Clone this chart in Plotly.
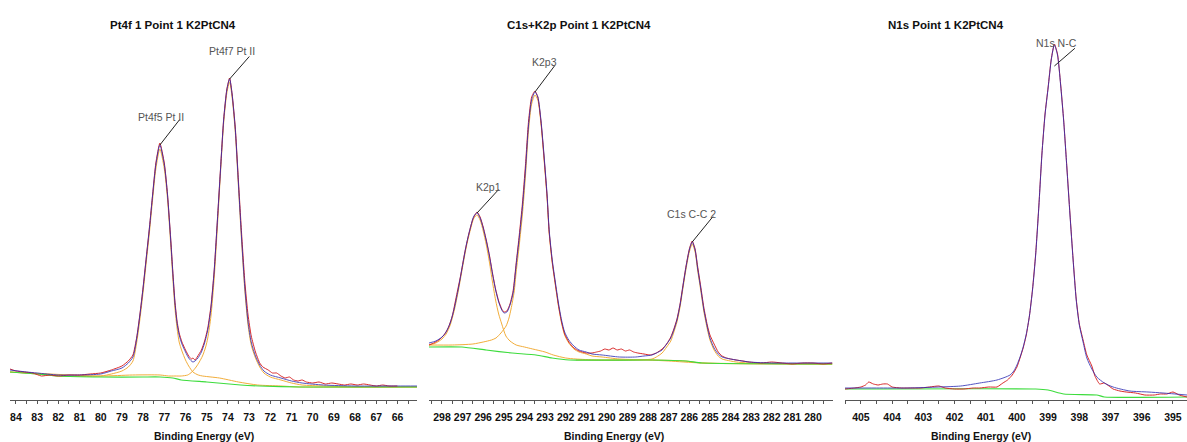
import numpy as np
import plotly.graph_objects as go

W, H = 1187, 442

# ---------------- Pt4f region ----------------
pt_env_ev = [84.28, 83.5, 83.0, 82.0, 81.0, 80.0, 79.5, 79.0, 78.7, 78.48, 78.3, 78.15, 78.0, 77.85, 77.7,
             77.55, 77.4, 77.21, 77.0, 76.85, 76.7, 76.6, 76.5, 76.4, 76.3, 76.17, 76.0, 75.85, 75.65, 75.45,
             75.25, 75.1, 74.95, 74.8, 74.65, 74.5, 74.35, 74.2, 74.05, 73.92, 73.8, 73.65, 73.5, 73.35,
             73.2, 73.05, 72.9, 72.7, 72.5, 72.3, 72.0, 71.5, 71.0, 70.5, 69.5, 68.0, 66.0, 65.08]
pt_env = [30, 28, 27, 25, 25, 26, 29, 32, 37, 43, 62, 85, 112, 142, 172,
          205, 235, 255, 235, 205, 160, 127, 97, 77, 65, 56, 48, 42, 38, 41,
          48, 57, 70, 92, 128, 178, 230, 280, 310, 321, 305, 270, 215, 160,
          112, 78, 58, 44, 35, 29, 25, 22, 19, 17, 15, 14, 14, 14]

pt_raw_ev = [84.28, 84.0, 83.6, 83.2, 82.8, 82.4, 82.0, 81.5, 81.0, 80.5, 80.0, 79.5, 79.0, 78.7, 78.48,
             78.3, 78.15, 78.0, 77.85, 77.7, 77.55, 77.4, 77.21, 77.0, 76.85, 76.7, 76.6, 76.5, 76.4,
             76.3, 76.17, 76.0, 75.85, 75.72, 75.65, 75.55, 75.45, 75.25, 75.1, 74.95, 74.8, 74.65, 74.5,
             74.35, 74.2, 74.05, 73.92, 73.8, 73.65, 73.5, 73.35, 73.2, 73.05, 72.9, 72.7, 72.5, 72.35,
             72.1, 71.9, 71.7, 71.5, 71.3, 71.1, 70.9, 70.7, 70.5, 70.3, 70.0, 69.7, 69.4, 69.1, 68.8,
             68.5, 68.2, 67.9, 67.6, 67.3, 67.0, 66.7, 66.4, 66.0]
pt_raw = [31, 29, 28, 27, 24, 25, 24, 25, 25, 26, 27, 30, 34, 39, 45,
          63, 86, 113, 143, 173, 206, 237, 257, 237, 206, 162, 129, 99, 79,
          67, 58, 50, 44, 41, 42, 40, 43, 50, 59, 72, 94, 129, 179,
          231, 281, 311, 322, 306, 272, 218, 165, 118, 85, 64, 48, 37, 33,
          30, 27, 27, 24, 22, 23, 20, 19, 20, 18, 17, 18, 16, 17, 16,
          15, 16, 15, 16, 15, 14, 15, 14, 14]

pt_bg_ev = [84.28, 83.0, 82.0, 80.0, 78.0, 77.2, 76.6, 76.2, 75.0, 73.4, 72.5, 70.6, 65.08]
pt_bg = [28, 26, 24, 23, 23, 23, 22, 20, 18, 15, 14, 13, 13]

pt4f5_ev = [84.28, 83.0, 82.0, 80.0, 79.5, 79.0, 78.7, 78.48, 78.3, 78.15, 78.0, 77.85, 77.7, 77.55,
            77.4, 77.21, 77.0, 76.85, 76.7, 76.6, 76.5, 76.4, 76.3, 76.17, 76.0, 75.85, 75.65, 75.4,
            75.2, 74.8, 74.4, 73.5, 72.6, 71.5, 70.6, 65.08]
pt4f5 = [28, 26, 24, 24, 26, 29, 33, 39, 58, 81, 108, 138, 168, 201,
         231, 251, 231, 201, 156, 122, 92, 72, 58, 49, 40, 34, 28, 25,
         24, 23, 22, 18, 15, 14, 13, 13]

pt4f7_ev = [84.28, 80.0, 78.5, 77.2, 76.8, 76.5, 76.2, 75.9, 75.7, 75.5, 75.35, 75.2, 75.05, 74.95,
            74.8, 74.65, 74.5, 74.35, 74.2, 74.05, 73.92, 73.8, 73.65, 73.5, 73.35, 73.2, 73.05, 72.9,
            72.7, 72.5, 72.3, 72.0, 71.5, 71.0, 70.5, 69.5, 68.0, 65.08]
pt4f7 = [28, 24, 25, 25, 24, 24, 24, 25, 28, 33, 38, 44, 53, 62,
         84, 121, 172, 227, 277, 307, 318, 302, 267, 212, 157, 109, 75, 55,
         42, 33, 27, 23, 20, 17, 15, 14, 13, 13]

# ---------------- C1s + K2p region ----------------
ck_env_ev = [298.63, 298.3, 298.0, 297.8, 297.6, 297.4, 297.2, 297.0, 296.8, 296.6, 296.45, 296.3,
             296.15, 296.0, 295.85, 295.7, 295.55, 295.4, 295.25, 295.1, 294.99, 294.85, 294.7,
             294.55, 294.4, 294.25, 294.1, 293.95, 293.8, 293.65, 293.49, 293.35, 293.2, 293.05,
             292.9, 292.8, 292.65, 292.5, 292.35, 292.2, 292.05, 291.85, 291.6, 291.35, 291.0,
             290.72, 290.23, 289.4, 288.6, 288.2, 287.81, 287.6, 287.32, 287.1, 286.9, 286.75,
             286.6, 286.45, 286.3, 286.16, 286.0, 285.86, 285.72, 285.6, 285.45, 285.3, 285.13,
             285.0, 284.8, 284.6, 284.41, 284.0, 283.73, 283.1, 282.0, 281.3, 279.07]
ck_env = [57, 59, 63, 68, 77, 92, 112, 135, 157, 174, 184, 187,
          182, 172, 159, 144, 126, 110, 98, 90, 87, 88, 95,
          107, 135, 162, 192, 230, 275, 300, 308, 303, 280, 245,
          205, 170, 140, 118, 97, 80, 68, 60, 54, 50, 48,
          46, 45, 43, 43, 44, 45, 47, 50, 56, 62, 70,
          80, 95, 115, 133, 150, 158, 150, 132, 112, 91, 73,
          62, 52, 46, 43, 41, 40, 38, 37, 37, 37]

ck_raw_ev = [298.63, 298.4, 298.15, 297.9, 297.7, 297.5, 297.3, 297.1, 296.9, 296.7, 296.5, 296.3,
             296.15, 296.0, 295.85, 295.7, 295.55, 295.4, 295.25, 295.1, 294.99, 294.85, 294.7,
             294.55, 294.4, 294.25, 294.1, 293.95, 293.8, 293.65, 293.49, 293.35, 293.2, 293.05,
             292.9, 292.8, 292.65, 292.5, 292.35, 292.2, 292.05, 291.85, 291.6, 291.35, 291.0,
             290.72, 290.5, 290.3, 290.1, 289.9, 289.7, 289.5, 289.3, 289.1, 288.9, 288.7, 288.5,
             288.2, 287.9, 287.6, 287.32, 287.1, 286.9, 286.75, 286.6, 286.45, 286.3, 286.16,
             286.0, 285.86, 285.72, 285.6, 285.45, 285.3, 285.13, 285.0, 284.8, 284.6, 284.41,
             284.2, 284.0, 283.73, 283.4, 283.1, 282.5, 282.0, 281.5, 281.0, 280.5, 280.0, 279.5,
             279.07]
ck_raw = [55, 57, 60, 65, 72, 84, 104, 124, 147, 166, 181, 188,
          183, 173, 160, 145, 127, 111, 99, 91, 88, 89, 96,
          109, 137, 165, 196, 235, 279, 303, 309, 303, 279, 243,
          203, 168, 138, 116, 95, 78, 66, 58, 52, 49, 47,
          47, 48, 49, 51, 50, 52, 50, 51, 49, 50, 48, 47,
          46, 45, 47, 51, 56, 63, 71, 81, 96, 116, 134,
          151, 159, 151, 134, 114, 93, 75, 65, 56, 48, 44,
          42, 41, 40, 39, 38, 37, 38, 37, 36, 37, 37, 36,
          37]

ck_bg_ev = [298.63, 297.03, 295.86, 294.6, 293.44, 292.66, 291.83, 287.81, 286.16, 285.38, 279.07]
ck_bg = [53, 53, 50, 47, 45, 42, 40, 40, 39, 37, 36]

k2p1_ev = [298.63, 298.3, 298.0, 297.8, 297.6, 297.4, 297.2, 297.0, 296.8, 296.6, 296.45, 296.3,
           296.15, 296.0, 295.85, 295.7, 295.55, 295.4, 295.25, 295.1, 294.9, 294.7, 294.4, 294.0,
           293.6, 293.0, 292.6, 292.0, 291.5, 290.5, 287.8, 286.2, 285.4, 279.07]
k2p1 = [55, 57, 61, 66, 75, 90, 110, 133, 155, 172, 182, 185,
        180, 169, 155, 138, 118, 100, 86, 76, 64, 59, 55, 53,
        51, 48, 45, 42, 41, 40, 40, 39, 37, 36]

k2p3_ev = [298.63, 297.5, 296.5, 296.0, 295.6, 295.38, 295.14, 294.89, 294.75, 294.65, 294.5, 294.4,
           294.25, 294.1, 293.95, 293.8, 293.65, 293.49, 293.35, 293.2, 293.05, 292.9, 292.8, 292.65,
           292.5, 292.35, 292.2, 292.05, 291.85, 291.6, 291.35, 291.0, 290.72, 290.23, 289.4, 288.0,
           287.0, 285.4, 279.07]
k2p3 = [55, 55, 56, 58, 60, 62, 67, 74, 82, 91, 108, 128,
        155, 185, 224, 270, 296, 305, 300, 277, 241, 202, 167, 137,
        115, 94, 77, 65, 57, 51, 48, 46, 44, 43, 41, 40,
        39, 37, 36]

c1s_ev = [291.5, 288.6, 287.81, 287.6, 287.32, 287.1, 286.9, 286.75, 286.6, 286.45, 286.3, 286.16,
          286.0, 285.86, 285.72, 285.6, 285.45, 285.3, 285.13, 285.0, 284.8, 284.6, 284.41, 284.0,
          283.73, 283.1, 279.07]
c1s = [40, 40, 41, 43, 47, 53, 59, 68, 78, 93, 113, 131,
       148, 156, 148, 130, 110, 89, 71, 60, 50, 44, 41, 39,
       38, 37, 36]

# ---------------- N1s region ----------------
n_env_ev = [405.51, 404.5, 403.5, 402.5, 401.8, 401.19, 400.64, 400.22, 400.1, 400.0, 399.9, 399.8,
            399.7, 399.6, 399.5, 399.4, 399.3, 399.2, 399.1, 399.0, 398.9, 398.8, 398.7, 398.6,
            398.5, 398.4, 398.3, 398.2, 398.1, 398.0, 397.88, 397.76, 397.6, 397.44, 397.2, 396.92,
            396.38, 395.8, 395.32, 394.55]
n_env = [12, 12, 12, 13, 14, 17, 20, 25, 29, 35, 43, 53,
         66, 84, 110, 145, 192, 245, 285, 312, 340, 355, 345, 315,
         278, 232, 185, 140, 100, 75, 58, 42, 31, 23, 17, 13,
         9, 8, 7, 5]

n_raw_ev = [405.51, 405.2, 405.0, 404.85, 404.75, 404.6, 404.45, 404.3, 404.15, 404.0, 403.7, 403.4,
            403.1, 402.8, 402.5, 402.3, 402.0, 401.7, 401.4, 401.19, 400.9, 400.64, 400.45, 400.3,
            400.15, 400.0, 399.9, 399.8, 399.7, 399.6, 399.5, 399.4, 399.3, 399.2, 399.1, 399.0,
            398.9, 398.8, 398.7, 398.6, 398.5, 398.4, 398.3, 398.2, 398.1, 398.0, 397.88, 397.76,
            397.6, 397.5, 397.35, 397.2, 397.05, 396.92, 396.7, 396.5, 396.2, 395.9, 395.6, 395.4,
            395.2, 395.0, 394.8, 394.55]
n_raw = [11, 12, 13, 15, 18, 16, 15, 16, 16, 13, 12, 12,
         12, 13, 14, 12, 11, 11, 12, 12, 13, 13, 17, 20,
         25, 33, 42, 52, 65, 84, 111, 146, 193, 246, 286, 313,
         341, 356, 346, 316, 279, 233, 186, 141, 101, 76, 60, 45,
         34, 24, 16, 17, 14, 11, 9, 8, 7, 5, 5, 6,
         6, 8, 5, 3]

n_bg_ev = [405.51, 399.4, 399.0, 398.5, 397.44, 397.2, 394.55]
n_bg = [11, 11, 10, 6, 5, 3, 3]

# ---------------- panel definitions ----------------
titles = ["Pt4f 1 Point 1 K2PtCN4", "C1s+K2p Point 1 K2PtCN4", "N1s Point 1 K2PtCN4"]
x_ranges = [[84.28, 65.08], [298.63, 279.03], [405.51, 394.55]]
x_dom_px = [(10, 417), (429, 833), (845, 1187)]
title_left_px = [108, 505, 886]
xlabel_center_px = [204, 614, 981]

panels = [
    dict(raw=(pt_raw_ev, pt_raw), env=(pt_env_ev, pt_env), bg=(pt_bg_ev, pt_bg),
         comps=[(pt4f5_ev, pt4f5), (pt4f7_ev, pt4f7)]),
    dict(raw=(ck_raw_ev, ck_raw), env=(ck_env_ev, ck_env), bg=(ck_bg_ev, ck_bg),
         comps=[(k2p1_ev, k2p1), (k2p3_ev, k2p3), (c1s_ev, c1s)]),
    dict(raw=(n_raw_ev, n_raw), env=(n_env_ev, n_env), bg=(n_bg_ev, n_bg), comps=[]),
]

# peak labels: text, panel, search window (eV), leader offset (px), text offset (px), leader start drop (px)
peak_labels = [
    ("Pt4f5 Pt II", 0, (76.5, 78.0), (21, -27), (1, -28), 0),
    ("Pt4f7 Pt II", 0, (73.0, 75.0), (21, -24), (2, -28), 0),
    ("K2p1", 1, (295.5, 297.0), (23, -25), (11, -26), 0),
    ("K2p3", 1, (292.5, 294.5), (21, -28), (10, -30), 0),
    ("C1s C-C 2", 1, (285.0, 287.0), (22, -27), (-1, -28), 0),
    ("N1s N-C", 2, (398.0, 399.5), (22, -19), (2, -2), 21),
]

RED = "#d92a2a"
BLUE = "#2a2ab4"
ORANGE = "#f2ad3a"
GREEN = "#3ddc3d"

fig = go.Figure()
Y_DOM = [(H - 400) / H, (H - 30) / H]
Y_RANGE = [0, 370]


def axis_ids(i):
    s = "" if i == 0 else str(i + 1)
    return "x" + s, "y" + s


for i, p in enumerate(panels):
    xa, ya = axis_ids(i)
    line_kw = dict(shape="spline", smoothing=0.7)
    for cev, cval in p["comps"]:
        fig.add_trace(go.Scatter(x=cev, y=cval, mode="lines", xaxis=xa, yaxis=ya,
                                 line=dict(color=ORANGE, width=1, **line_kw), hoverinfo="skip"))
    bev, bval = p["bg"]
    fig.add_trace(go.Scatter(x=bev, y=bval, mode="lines", xaxis=xa, yaxis=ya,
                             line=dict(color=GREEN, width=1.2, shape="spline", smoothing=0.5),
                             hoverinfo="skip"))
    rev, rval = p["raw"]
    fig.add_trace(go.Scatter(x=rev, y=rval, mode="lines", xaxis=xa, yaxis=ya,
                             line=dict(color=RED, width=1, shape="spline", smoothing=0.5),
                             hoverinfo="skip"))
    eev, evals = p["env"]
    fig.add_trace(go.Scatter(x=eev, y=evals, mode="lines", xaxis=xa, yaxis=ya, opacity=0.8,
                             line=dict(color=BLUE, width=1, **line_kw), hoverinfo="skip"))

layout = dict(width=W, height=H, margin=dict(l=0, r=0, t=0, b=0), showlegend=False,
              paper_bgcolor="white", plot_bgcolor="white")

for i in range(3):
    s = "" if i == 0 else str(i + 1)
    x0, x1 = x_dom_px[i]
    layout["xaxis" + s] = dict(
        domain=[x0 / W, x1 / W], range=x_ranges[i], anchor="y" + s,
        showgrid=False, zeroline=False, showline=True, linecolor="#555", linewidth=1,
        ticks="outside", ticklen=3, tickcolor="#555", dtick=1, tick0=0,
        minor=dict(dtick=0.5, ticks="outside", ticklen=3, tickcolor="#555"),
        tickfont=dict(family="Liberation Sans, Arial, sans-serif", size=10.5, color="#111", weight="bold"),
        ticklabelstandoff=4,
    )
    layout["yaxis" + s] = dict(domain=Y_DOM, range=Y_RANGE, anchor="x" + s, visible=False)

annotations = []
for i in range(3):
    annotations.append(dict(
        xref="paper", yref="paper", x=title_left_px[i] / W, y=(H - 25) / H,
        xanchor="left", yanchor="middle", showarrow=False, text=titles[i],
        font=dict(family="Liberation Sans, Arial, sans-serif", size=11.5, color="#111", weight="bold")))
    annotations.append(dict(
        xref="paper", yref="paper", x=xlabel_center_px[i] / W, y=(H - 436) / H,
        xanchor="center", yanchor="middle", showarrow=False, text="Binding Energy (eV)",
        font=dict(family="Liberation Sans, Arial, sans-serif", size=10.5, color="#111", weight="bold")))

for text, pi, (lo, hi), (ax, ay), (tx, ty), drop in peak_labels:
    eev, evals = panels[pi]["env"]
    ev_arr = np.array(eev)
    h_arr = np.array(evals, dtype=float)
    mask = (ev_arr >= lo) & (ev_arr <= hi)
    k = np.argmax(np.where(mask, h_arr, -np.inf))
    px_ev, px_h = ev_arr[k], h_arr[k]
    xa, ya = axis_ids(pi)
    annotations.append(dict(
        xref=xa, yref=ya, x=px_ev, y=px_h - drop, text="", showarrow=True,
        ax=ax, ay=ay, axref="pixel", ayref="pixel", arrowhead=0, arrowwidth=1,
        arrowcolor="#222", standoff=0, startstandoff=0))
    annotations.append(dict(
        xref=xa, yref=ya, x=px_ev, y=px_h, text=text, showarrow=False,
        xshift=tx, yshift=-ty, xanchor="center", yanchor="middle",
        font=dict(family="Liberation Sans Narrow, Arial Narrow, Liberation Sans, sans-serif",
                  size=10.5, color="#555")))

layout["annotations"] = annotations
fig.update_layout(**layout)
fig.write_html("out.html")
